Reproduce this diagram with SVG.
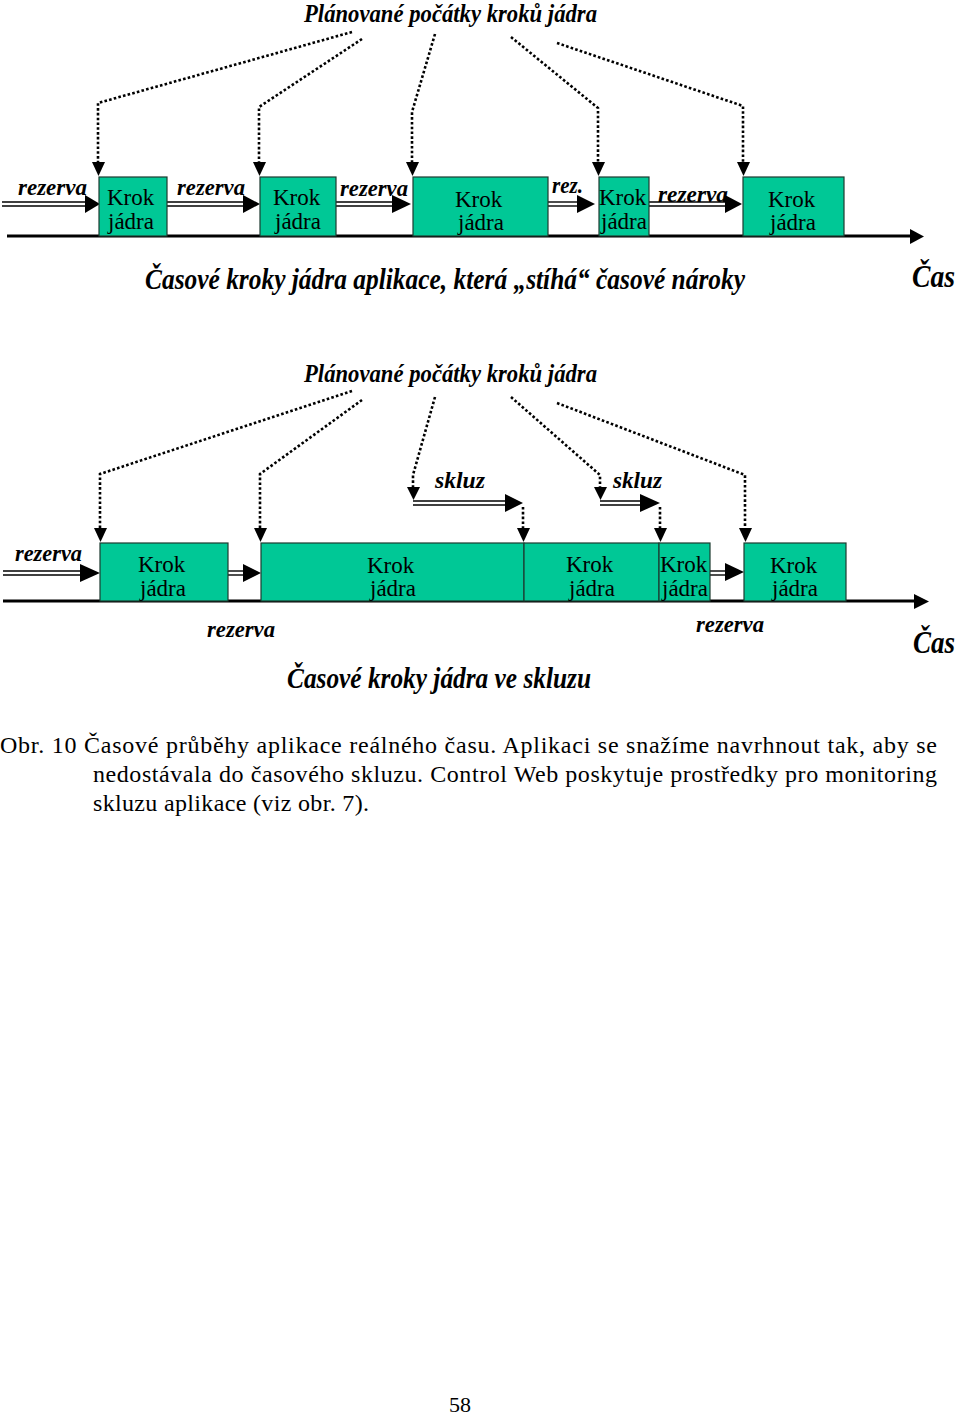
<svg xmlns="http://www.w3.org/2000/svg" width="960" height="1416" viewBox="0 0 960 1416">
<style>
.bg{fill:#fff}
.box{fill:#00C896;stroke:#1d3b30;stroke-width:1.2}
.dot{fill:none;stroke:#000;stroke-width:2.6;stroke-dasharray:2.6 2.2}
.dbl{stroke:#000;stroke-width:1.4;fill:none}
.axis{stroke:#000;stroke-width:3;fill:none}
.head{fill:#000}
.bi{font-family:"Liberation Serif","Times New Roman",serif;font-style:italic;font-weight:bold;fill:#000}
.it{font-family:"Liberation Serif","Times New Roman",serif;font-style:italic;font-weight:bold;fill:#000}
.rm{font-family:"Liberation Serif","Times New Roman",serif;fill:#000}
.kt{font-family:"Liberation Serif","Times New Roman",serif;font-size:23px;fill:#000}
</style>
<rect class="bg" x="0" y="0" width="960" height="1416"/>

<!-- ===== Panel 1 ===== -->
<g id="p1-title"><text class="bi" x="304" y="22" font-size="26" textLength="293" lengthAdjust="spacingAndGlyphs">Plánované počátky kroků jádra</text></g>

<g id="p1-connectors">
  <polyline class="dot" points="352,32 98,103 98,162"/>
  <polygon class="head" points="92,162 105,162 98.5,176"/>
  <polyline class="dot" points="362,39 259,107 259,162"/>
  <polygon class="head" points="253,162 266,162 259.5,176"/>
  <polyline class="dot" points="435,34 412,112 412,162"/>
  <polygon class="head" points="406,162 419,162 412.5,176"/>
  <polyline class="dot" points="511,37 598,108 598,162"/>
  <polygon class="head" points="592,162 605,162 598.5,176"/>
  <polyline class="dot" points="557,43 743,106 743,162"/>
  <polygon class="head" points="737,162 750,162 743.5,176"/>
  <line class="dbl" x1="2" y1="202" x2="86" y2="202"/><line class="dbl" x1="2" y1="206" x2="86" y2="206"/>
  <polygon class="head" points="85,195 100,204 85,213"/>
  <line class="dbl" x1="167" y1="202" x2="245" y2="202"/><line class="dbl" x1="167" y1="206" x2="245" y2="206"/>
  <polygon class="head" points="243,195 260,204 243,213"/>
  <line class="dbl" x1="336" y1="202" x2="393" y2="202"/><line class="dbl" x1="336" y1="206" x2="393" y2="206"/>
  <polygon class="head" points="392,195 411,204 392,213"/>
  <line class="dbl" x1="548" y1="202" x2="578" y2="202"/><line class="dbl" x1="548" y1="206" x2="578" y2="206"/>
  <polygon class="head" points="577,195 595,204 577,213"/>
  <line class="dbl" x1="649" y1="202" x2="726" y2="202"/><line class="dbl" x1="649" y1="206" x2="726" y2="206"/>
  <polygon class="head" points="725,195 742,204 725,213"/>
  <line class="axis" x1="7" y1="236" x2="912" y2="236"/>
  <polygon class="head" points="910,229 924,236.5 910,244"/>
</g>

<g id="p1-box1"><rect class="box" x="99" y="177" width="68" height="59"/><text class="kt" x="107" y="205">Krok</text><text class="kt" x="108" y="229">jádra</text></g>
<g id="p1-box2"><rect class="box" x="260" y="177" width="76" height="59"/><text class="kt" x="273" y="205">Krok</text><text class="kt" x="275" y="229">jádra</text></g>
<g id="p1-box3"><rect class="box" x="413" y="177" width="135" height="59"/><text class="kt" x="455" y="207">Krok</text><text class="kt" x="458" y="230">jádra</text></g>
<g id="p1-box4"><rect class="box" x="599" y="177" width="50" height="59"/><text class="kt" x="599" y="205">Krok</text><text class="kt" x="601" y="229">jádra</text></g>
<g id="p1-box5"><rect class="box" x="743" y="177" width="101" height="59"/><text class="kt" x="768" y="207">Krok</text><text class="kt" x="770" y="230">jádra</text></g>

<g id="p1-labels">
  <text class="bi" x="18" y="195" font-size="24" textLength="69" lengthAdjust="spacingAndGlyphs">rezerva</text>
  <text class="bi" x="177" y="195" font-size="24" textLength="68" lengthAdjust="spacingAndGlyphs">rezerva</text>
  <text class="bi" x="340" y="196" font-size="24" textLength="68" lengthAdjust="spacingAndGlyphs">rezerva</text>
  <text class="bi" x="552" y="193" font-size="24" textLength="31" lengthAdjust="spacingAndGlyphs">rez.</text>
  <text class="bi" x="658" y="202" font-size="24" textLength="70" lengthAdjust="spacingAndGlyphs">rezerva</text>
  <text class="it" x="145" y="289" font-size="30" textLength="600" lengthAdjust="spacingAndGlyphs">Časové kroky jádra aplikace, která „stíhá“ časové nároky</text>
  <text class="it" x="912" y="287" font-size="32" textLength="43" lengthAdjust="spacingAndGlyphs">Čas</text>
</g>

<!-- ===== Panel 2 ===== -->
<g id="p2-title"><text class="bi" x="304" y="382" font-size="26" textLength="293" lengthAdjust="spacingAndGlyphs">Plánované počátky kroků jádra</text></g>

<g id="p2-connectors">
  <polyline class="dot" points="352,391 100,474 100,528"/>
  <polygon class="head" points="94,528 107,528 100.5,542"/>
  <polyline class="dot" points="362,400 260,474 260,528"/>
  <polygon class="head" points="254,528 267,528 260.5,542"/>
  <polyline class="dot" points="435,397 413,475 413,487"/>
  <polygon class="head" points="407,487 420,487 413.5,500"/>
  <polyline class="dot" points="511,397 600,475 600,487"/>
  <polygon class="head" points="594,487 607,487 600.5,500"/>
  <polyline class="dot" points="557,403 745,475 745,528"/>
  <polygon class="head" points="739,528 752,528 745.5,542"/>
  <line class="dbl" x1="413" y1="501" x2="506" y2="501"/><line class="dbl" x1="413" y1="505" x2="506" y2="505"/>
  <polygon class="head" points="505,494 523,503 505,512"/>
  <polyline class="dot" points="523,507 523,528"/>
  <polygon class="head" points="517,528 530,528 523.5,542"/>
  <line class="dbl" x1="600" y1="501" x2="641" y2="501"/><line class="dbl" x1="600" y1="505" x2="641" y2="505"/>
  <polygon class="head" points="640,494 660,503 640,512"/>
  <polyline class="dot" points="660,507 660,528"/>
  <polygon class="head" points="654,528 667,528 660.5,542"/>
  <line class="dbl" x1="3" y1="571" x2="81" y2="571"/><line class="dbl" x1="3" y1="575" x2="81" y2="575"/>
  <polygon class="head" points="80,564 100,573 80,582"/>
  <line class="dbl" x1="228" y1="571" x2="244" y2="571"/><line class="dbl" x1="228" y1="575" x2="244" y2="575"/>
  <polygon class="head" points="243,564 261,573 243,582"/>
  <line class="dbl" x1="710" y1="571" x2="726" y2="571"/><line class="dbl" x1="710" y1="575" x2="726" y2="575"/>
  <polygon class="head" points="725,563 744,572 725,581"/>
  <line class="axis" x1="3" y1="601" x2="916" y2="601"/>
  <polygon class="head" points="914,594 929,601.5 914,609"/>
</g>

<g id="p2-box1"><rect class="box" x="100" y="543" width="128" height="58"/><text class="kt" x="138" y="572">Krok</text><text class="kt" x="140" y="596">jádra</text></g>
<g id="p2-box2"><rect class="box" x="261" y="543" width="263" height="58"/><text class="kt" x="367" y="573">Krok</text><text class="kt" x="370" y="596">jádra</text></g>
<g id="p2-box3"><rect class="box" x="524" y="543" width="135" height="58"/><text class="kt" x="566" y="572">Krok</text><text class="kt" x="569" y="596">jádra</text></g>
<g id="p2-box4"><rect class="box" x="659" y="543" width="51" height="58"/><text class="kt" x="660" y="572">Krok</text><text class="kt" x="662" y="596">jádra</text></g>
<g id="p2-box5"><rect class="box" x="744" y="543" width="102" height="58"/><text class="kt" x="770" y="573">Krok</text><text class="kt" x="772" y="596">jádra</text></g>

<g id="p2-labels">
  <text class="bi" x="15" y="561" font-size="24" textLength="67" lengthAdjust="spacingAndGlyphs">rezerva</text>
  <text class="bi" x="435" y="488" font-size="24" textLength="50" lengthAdjust="spacingAndGlyphs">skluz</text>
  <text class="bi" x="613" y="488" font-size="24" textLength="49" lengthAdjust="spacingAndGlyphs">skluz</text>
  <text class="it" x="207" y="637" font-size="24" textLength="68" lengthAdjust="spacingAndGlyphs">rezerva</text>
  <text class="it" x="696" y="632" font-size="24" textLength="68" lengthAdjust="spacingAndGlyphs">rezerva</text>
  <text class="it" x="913" y="653" font-size="32" textLength="42" lengthAdjust="spacingAndGlyphs">Čas</text>
  <text class="it" x="287" y="688" font-size="30" textLength="304" lengthAdjust="spacingAndGlyphs">Časové kroky jádra ve skluzu</text>
</g>

<g id="caption">
  <text class="rm" x="0" y="753" font-size="24" textLength="937" lengthAdjust="spacing">Obr. 10 Časové průběhy aplikace reálného času. Aplikaci se snažíme navrhnout tak, aby se</text>
  <text class="rm" x="93" y="782" font-size="24" textLength="844" lengthAdjust="spacing">nedostávala do časového skluzu. Control Web poskytuje prostředky pro monitoring</text>
  <text class="rm" x="93" y="811" font-size="24" textLength="276" lengthAdjust="spacing">skluzu aplikace (viz obr. 7).</text>
</g>
<g id="page-number"><text class="rm" x="449" y="1412" font-size="22">58</text></g>
</svg>
